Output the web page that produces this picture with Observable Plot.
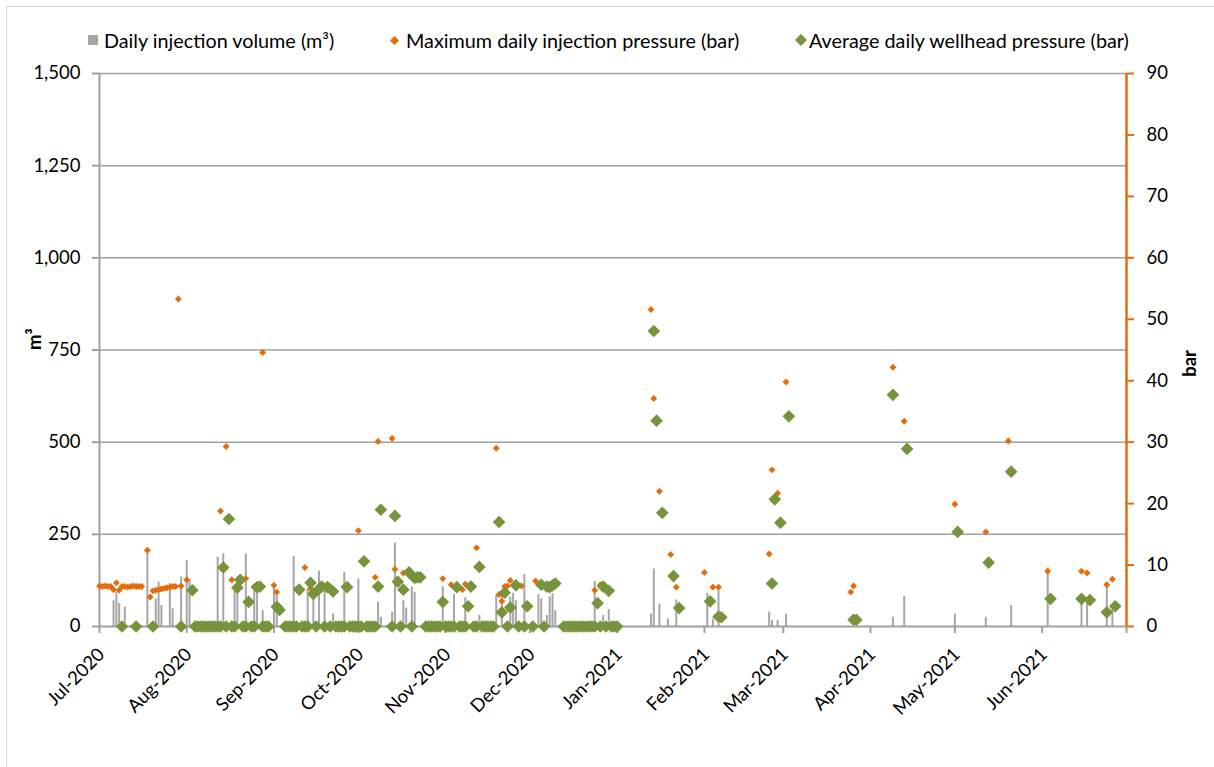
<!DOCTYPE html>
<html><head><meta charset="utf-8">
<script src="https://cdn.jsdelivr.net/npm/d3@7"></script>
<script src="https://cdn.jsdelivr.net/npm/@observablehq/plot@0.6"></script>
<style>
html,body{margin:0;padding:0;background:#fff;overflow:hidden;}
body{width:1214px;height:767px;position:relative;font-family:Lato,"Open Sans",sans-serif;color:#000;}
#frame{position:absolute;left:6px;top:6px;width:1400px;height:1000px;border:1px solid #d9d9d9;box-sizing:border-box;pointer-events:none;}
#legend{position:relative;height:60px;font-size:19.8px;}
.item{position:absolute;top:29px;height:22px;line-height:22px;display:flex;align-items:center;white-space:nowrap;}
.item svg{display:block;}
#chart{position:relative;}
</style></head><body>
<div id="frame"></div>
<div id="legend">
  <div class="item" style="left:88px"><svg width="10" height="10"><rect width="10" height="10" fill="#a6a6a6"/></svg><span style="margin-left:6px">Daily injection volume (m³)</span></div>
  <div class="item" style="left:390px"><svg width="9" height="9"><polygon points="4.5,0 9,4.5 4.5,9 0,4.5" fill="#E46C0A"/></svg><span style="margin-left:7px">Maximum daily injection pressure (bar)</span></div>
  <div class="item" style="left:795px"><svg width="12" height="12"><polygon points="6,0 12,6 6,12 0,6" fill="#77933C"/></svg><span style="margin-left:2px">Average daily wellhead pressure (bar)</span></div>
</div>
<div id="chart"></div>
<script>
const tickMonths = ["2020-07-01","2020-08-01","2020-09-01","2020-10-01","2020-11-01","2020-12-01","2021-01-01","2021-02-01","2021-03-01","2021-04-01","2021-05-01","2021-06-01","2021-07-01"];
const tickLabels = ["Jul-2020","Aug-2020","Sep-2020","Oct-2020","Nov-2020","Dec-2020","Jan-2021","Feb-2021","Mar-2021","Apr-2021","May-2021","Jun-2021"];
const volumeTicks = [0,250,500,750,1000,1250,1500];
const pressureTicks = [0,10,20,30,40,50,60,70,80,90];

const volumeDates = ["2020-07-06","2020-07-07","2020-07-08","2020-07-10","2020-07-18","2020-07-21","2020-07-22","2020-07-23","2020-07-26","2020-07-27","2020-07-30",
"2020-08-01","2020-08-02","2020-08-12","2020-08-14","2020-08-18","2020-08-19","2020-08-22","2020-08-25","2020-08-26","2020-08-28",
"2020-09-01","2020-09-02","2020-09-08","2020-09-13","2020-09-15","2020-09-17","2020-09-19","2020-09-22","2020-09-26",
"2020-10-01","2020-10-08","2020-10-09","2020-10-13","2020-10-14","2020-10-17","2020-10-18","2020-10-20","2020-10-21","2020-10-31",
"2020-11-04","2020-11-08","2020-11-13","2020-11-19","2020-11-21","2020-11-24","2020-11-25","2020-11-26","2020-11-29",
"2020-12-04","2020-12-05","2020-12-07","2020-12-08","2020-12-09","2020-12-10","2020-12-24","2020-12-27","2020-12-29",
"2021-01-13","2021-01-14","2021-01-16","2021-01-19","2021-01-22",
"2021-02-02","2021-02-04","2021-02-06","2021-02-24","2021-02-25","2021-02-27",
"2021-03-02","2021-04-09","2021-04-13","2021-05-01","2021-05-12","2021-05-21",
"2021-06-03","2021-06-15","2021-06-17","2021-06-24","2021-06-26"];
const volumeM3 = [70,93,62,52,206,75,120,57,116,48,134,
179,125,188,197,107,125,197,102,116,43,
116,98,190,102,98,150,111,34,147,
129,66,25,39,226,70,50,107,93,108,
87,78,30,84,85,80,90,70,141,
87,75,30,80,89,43,122,30,46,
34,156,61,21,72,
90,20,98,39,16,16,
33,25,82,34,25,57,
158,70,70,107,52];

const maxPressureDates = ["2020-07-01","2020-07-02","2020-07-03","2020-07-04","2020-07-05","2020-07-06","2020-07-07","2020-07-08","2020-07-09","2020-07-10","2020-07-11","2020-07-12","2020-07-13","2020-07-14","2020-07-15","2020-07-16",
"2020-07-18","2020-07-19","2020-07-20","2020-07-21","2020-07-22","2020-07-23","2020-07-24","2020-07-25","2020-07-26","2020-07-27","2020-07-28","2020-07-29","2020-07-30","2020-08-01",
"2020-08-13","2020-08-15","2020-08-17","2020-08-22","2020-08-25","2020-08-28",
"2020-09-01","2020-09-02","2020-09-09","2020-09-12","2020-09-14","2020-09-21","2020-09-26",
"2020-10-01","2020-10-07","2020-10-08","2020-10-13","2020-10-14","2020-10-17","2020-10-19","2020-10-31",
"2020-11-03","2020-11-07","2020-11-08","2020-11-12","2020-11-19","2020-11-20","2020-11-21","2020-11-22","2020-11-23","2020-11-24","2020-11-28",
"2020-12-03","2020-12-24","2020-12-26",
"2021-01-13","2021-01-14","2021-01-16","2021-01-20","2021-01-22",
"2021-02-01","2021-02-04","2021-02-06","2021-02-24","2021-02-25","2021-02-27",
"2021-03-02","2021-03-25","2021-03-26","2021-04-09","2021-04-13",
"2021-05-01","2021-05-12","2021-05-20",
"2021-06-03","2021-06-15","2021-06-17","2021-06-24","2021-06-26"];
const maxPressureBar = [6.6,6.5,6.6,6.5,6.5,6.0,7.1,5.9,6.5,6.5,6.4,6.5,6.6,6.5,6.5,6.5,
12.4,4.8,5.8,5.9,6.0,6.1,6.2,6.3,6.4,6.5,6.5,53.3,6.6,7.6,
18.8,29.3,7.6,7.8,6.5,44.6,
6.7,5.6,6.1,9.6,6.2,6.5,6.5,
15.6,8.0,30.1,30.6,9.3,8.7,8.5,7.8,
6.8,6.0,6.9,12.8,29.0,5.2,4.1,6.5,6.6,7.5,6.6,
7.4,5.9,6.8,
51.6,37.1,22.0,11.7,6.4,
8.8,6.4,6.4,11.8,25.5,21.7,
39.8,5.6,6.6,42.2,33.4,
19.9,15.4,30.2,
9.0,9.0,8.7,6.8,7.7];

const avgPressureDates = ["2020-08-03","2020-08-14","2020-08-16","2020-08-19","2020-08-20","2020-08-23","2020-08-26","2020-08-27",
"2020-09-02","2020-09-03","2020-09-10","2020-09-14","2020-09-15","2020-09-17","2020-09-18","2020-09-20","2020-09-22","2020-09-27",
"2020-10-03","2020-10-08","2020-10-09","2020-10-14","2020-10-15","2020-10-17","2020-10-19","2020-10-21","2020-10-22","2020-10-23","2020-10-31",
"2020-11-05","2020-11-09","2020-11-10","2020-11-13","2020-11-20","2020-11-21","2020-11-22","2020-11-24","2020-11-26","2020-11-30",
"2020-12-05","2020-12-07","2020-12-08","2020-12-09","2020-12-10","2020-12-25","2020-12-27","2020-12-29",
"2021-01-14","2021-01-15","2021-01-17","2021-01-21","2021-01-23",
"2021-02-03","2021-02-06","2021-02-07","2021-02-25","2021-02-26","2021-02-28",
"2021-03-03","2021-03-26","2021-03-27","2021-04-09","2021-04-14",
"2021-05-02","2021-05-13","2021-05-21",
"2021-06-04","2021-06-15","2021-06-18","2021-06-24","2021-06-27"];
const avgPressureBar = [5.9,9.6,17.5,6.3,7.6,4.0,6.4,6.5,
3.2,2.7,6.0,7.1,5.3,6.1,6.5,6.4,5.7,6.4,
10.6,6.5,19.0,18.0,7.3,6.0,8.8,7.9,8.0,8.0,4.0,
6.4,3.3,6.5,9.7,17.0,2.3,5.5,3.1,6.7,3.3,
6.8,6.5,6.4,6.7,7.0,3.8,6.5,5.8,
48.1,33.5,18.5,8.2,3.0,
4.1,1.6,1.5,7.0,20.7,16.9,
34.2,1.1,1.1,37.7,28.9,
15.4,10.4,25.2,
4.5,4.5,4.3,2.3,3.3];

const avgZeroDates = ["2020-07-09","2020-07-14","2020-07-20","2020-07-30",
"2020-08-04","2020-08-05","2020-08-06","2020-08-07","2020-08-08","2020-08-09","2020-08-10","2020-08-11","2020-08-12","2020-08-13","2020-08-15","2020-08-17","2020-08-18","2020-08-21","2020-08-22","2020-08-24","2020-08-25","2020-08-28","2020-08-29","2020-08-30",
"2020-09-05","2020-09-06","2020-09-07","2020-09-08","2020-09-09","2020-09-11","2020-09-12","2020-09-13","2020-09-16","2020-09-19","2020-09-21","2020-09-23","2020-09-24","2020-09-25","2020-09-26","2020-09-28","2020-09-29","2020-09-30",
"2020-10-01","2020-10-02","2020-10-04","2020-10-05","2020-10-06","2020-10-07","2020-10-13","2020-10-16","2020-10-20","2020-10-25","2020-10-26","2020-10-27","2020-10-28","2020-10-29","2020-10-30",
"2020-11-01","2020-11-02","2020-11-03","2020-11-04","2020-11-06","2020-11-07","2020-11-08","2020-11-11","2020-11-12","2020-11-14","2020-11-15","2020-11-16","2020-11-17","2020-11-18","2020-11-23","2020-11-27","2020-11-29",
"2020-12-02","2020-12-06","2020-12-13","2020-12-14","2020-12-15","2020-12-16","2020-12-17","2020-12-18","2020-12-19","2020-12-20","2020-12-21","2020-12-22","2020-12-23","2020-12-24","2020-12-26","2020-12-28","2020-12-30","2020-12-31",
"2021-01-01"];

const ORANGE = "#E46C0A", GREEN = "#77933C", BARGRAY = "#a6a6a6", AXISGRAY = "#a0a0a0";
const FS = 18.5;
const parse = d3.utcParse("%Y-%m-%d");
const k = 1500 / 90; // bar -> m³ scale factor for the secondary axis
const months = tickMonths.map(parse);
const volume = volumeDates.map((d, i) => ({date: parse(d), v: volumeM3[i]}));
const maxP = maxPressureDates.map((d, i) => ({date: parse(d), v: maxPressureBar[i] * k}));
const avgP = avgPressureDates.map((d, i) => ({date: parse(d), v: avgPressureBar[i] * k}))
  .concat(avgZeroDates.map(d => ({date: parse(d), v: 0})));

const chart = Plot.plot({
  width: 1214, height: 707,
  marginTop: 13, marginBottom: 141, marginLeft: 99, marginRight: 88,
  x: {type: "utc", domain: [months[0], months[months.length - 1]]},
  y: {domain: [0, 1500]},
  style: {fontFamily: "Lato, 'Open Sans', sans-serif", fontSize: FS + "px", color: "#000", background: "transparent", overflow: "visible"},
  marks: [
    Plot.ruleY(volumeTicks.slice(1), {stroke: AXISGRAY, strokeWidth: 1.5}),
    Plot.ruleX(volume, {x: "date", y1: 0, y2: "v", stroke: BARGRAY, strokeWidth: 2}),
    Plot.ruleY([0], {stroke: AXISGRAY, strokeWidth: 2}),
    Plot.ruleX([months[0]], {stroke: AXISGRAY, strokeWidth: 2}),
    Plot.axisX(months, {tickSize: 7, stroke: AXISGRAY, strokeWidth: 2, tickFormat: () => "", label: null}),
    Plot.text(months.slice(0, tickLabels.length), {x: d => d, text: (d, i) => tickLabels[i], frameAnchor: "bottom", rotate: -45, textAnchor: "end", lineAnchor: "middle", dy: 25, dx: 2, fontSize: FS, fill: "#000"}),
    Plot.axisY(volumeTicks, {anchor: "left", tickSize: 7, tickPadding: 12, stroke: AXISGRAY, strokeWidth: 2, fill: "#000", tickFormat: d3.format(","), label: null, fontSize: FS}),
    Plot.axisY(pressureTicks.map(v => v * k), {anchor: "right", tickSize: 7, tickPadding: 13, stroke: ORANGE, strokeWidth: 2, fill: "#000", tickFormat: d => String(Math.round(d / k)), label: null, fontSize: FS}),
    Plot.ruleX([months[months.length - 1]], {stroke: ORANGE, strokeWidth: 2.5}),
    Plot.dot(maxP, {x: "date", y: "v", symbol: "diamond2", r: 3.1, fill: ORANGE, stroke: "none"}),
    Plot.dot(avgP, {x: "date", y: "v", symbol: "diamond2", r: 5.7, fill: GREEN, stroke: "none"}),
    Plot.text(["m³"], {text: d => d, frameAnchor: "left", dx: -64, rotate: -90, fontWeight: "bold", fontSize: FS, fill: "#000"}),
    Plot.text(["bar"], {text: d => d, frameAnchor: "right", dx: 64, rotate: -90, fontWeight: "bold", fontSize: FS, fill: "#000"})
  ]
});
document.getElementById("chart").appendChild(chart);
</script>
</body></html>
